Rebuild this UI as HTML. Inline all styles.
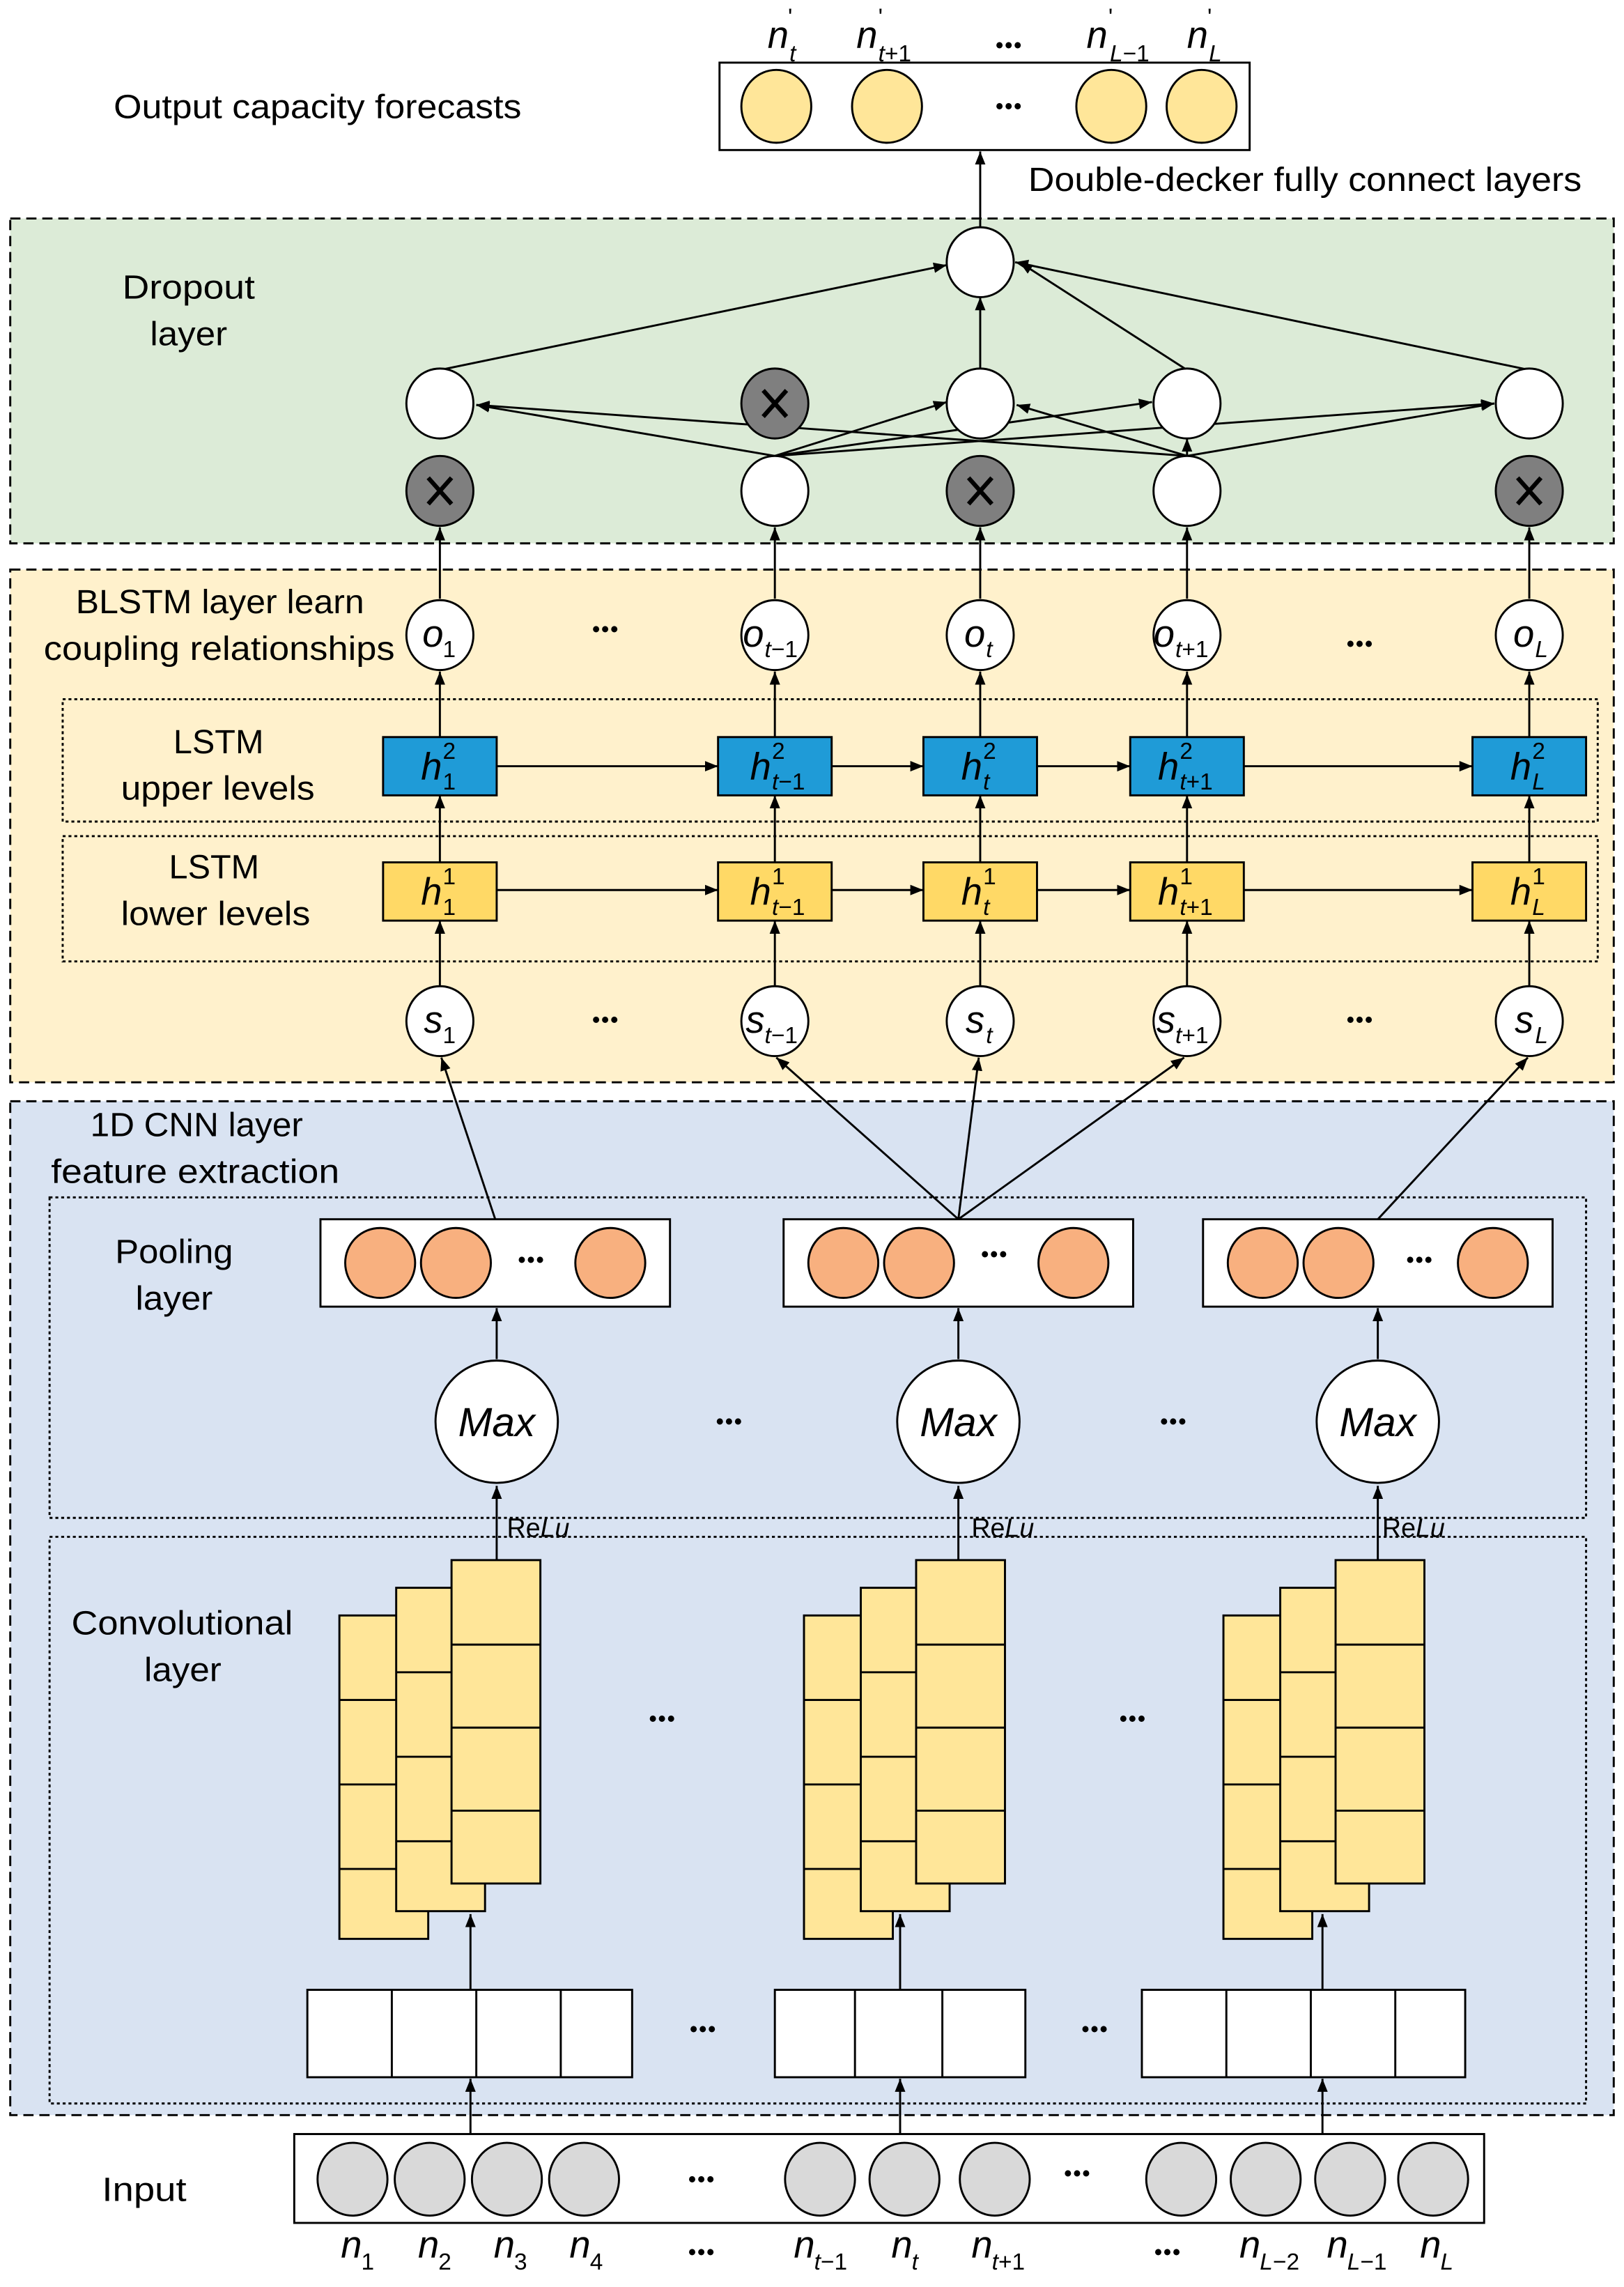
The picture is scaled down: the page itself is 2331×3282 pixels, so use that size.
<!DOCTYPE html>
<html><head><meta charset="utf-8"><style>
html,body{margin:0;padding:0;background:#fff}
svg{display:block}
text{font-family:"Liberation Sans",sans-serif;fill:#000}
.l{font-size:23px}
.d{font-size:15px;font-weight:bold;letter-spacing:1px}
.m{font-size:26px;font-style:italic}
.s{font-size:16px;font-style:normal}
.si{font-size:16px;font-style:italic}
</style></head><body>
<svg width="2331" height="3282" viewBox="0 0 1115 1570" xmlns="http://www.w3.org/2000/svg">
<defs>
<marker id="a" viewBox="0 0 10 10" refX="10" refY="5" markerWidth="9" markerHeight="9" markerUnits="userSpaceOnUse" orient="auto"><path d="M0,1 L10,5 L0,9 z" fill="#000"/></marker>
</defs>
<g stroke="#000" stroke-width="1.4">
<rect x="7" y="150" width="1101" height="223" fill="#dcebd7" stroke-dasharray="7,4"/>
<rect x="7" y="391" width="1101" height="352" fill="#fff1cc" stroke-dasharray="7,4"/>
<rect x="7" y="756" width="1101" height="696" fill="#d9e3f2" stroke-dasharray="7,4"/>
<rect x="43" y="480" width="1054" height="84" fill="none" stroke-dasharray="2,2"/>
<rect x="43" y="574" width="1054" height="86" fill="none" stroke-dasharray="2,2"/>
<rect x="34" y="822" width="1055" height="220" fill="none" stroke-dasharray="2,2"/>
<rect x="34" y="1055" width="1055" height="389" fill="none" stroke-dasharray="2,2"/>
</g>
<!-- output -->
<g stroke="#000" stroke-width="1.4">
<rect x="494" y="43" width="364" height="60" fill="#fff"/>
<ellipse cx="533" cy="73" rx="24" ry="25" fill="#ffe699"/>
<ellipse cx="609" cy="73" rx="24" ry="25" fill="#ffe699"/>
<ellipse cx="763" cy="73" rx="24" ry="25" fill="#ffe699"/>
<ellipse cx="825" cy="73" rx="24" ry="25" fill="#ffe699"/>
<line x1="673" y1="157" x2="673" y2="104" marker-end="url(#a)"/>
</g>
<text x="693" y="78" class="d" text-anchor="middle">•••</text>
<text x="693" y="36" class="d" text-anchor="middle">•••</text>
<text x="78" y="81" class="l" textLength="280" lengthAdjust="spacingAndGlyphs">Output capacity forecasts</text>
<text x="706" y="131" class="l" textLength="380" lengthAdjust="spacingAndGlyphs">Double-decker fully connect layers</text>
<text x="527" y="33" class="m">n</text><text x="542" y="42" class="si">t</text><text x="541" y="17" class="s">'</text>
<text x="588" y="33" class="m">n</text><text x="603" y="42" class="si">t<tspan class="s">+1</tspan></text><text x="603" y="17" class="s">'</text>
<text x="746" y="33" class="m">n</text><text x="762" y="42" class="si">L<tspan class="s">−1</tspan></text><text x="761" y="17" class="s">'</text>
<text x="815" y="33" class="m">n</text><text x="830" y="42" class="si">L</text><text x="829" y="17" class="s">'</text>

<!-- dropout -->
<text x="84" y="205" class="l" textLength="91" lengthAdjust="spacingAndGlyphs">Dropout</text>
<text x="103" y="237" class="l" textLength="53" lengthAdjust="spacingAndGlyphs">layer</text>
<g stroke="#000" stroke-width="1.4" fill="none">
<line x1="302" y1="254" x2="650" y2="182" marker-end="url(#a)"/>
<line x1="673" y1="254" x2="673" y2="204" marker-end="url(#a)"/>
<line x1="815" y1="254" x2="700" y2="180" marker-end="url(#a)"/>
<line x1="1050" y1="254" x2="697" y2="180" marker-end="url(#a)"/>
<line x1="532" y1="313" x2="327" y2="278" marker-end="url(#a)"/>
<line x1="532" y1="313" x2="650" y2="276" marker-end="url(#a)"/>
<line x1="532" y1="313" x2="791" y2="276" marker-end="url(#a)"/>
<line x1="532" y1="313" x2="1026" y2="277" marker-end="url(#a)"/>
<line x1="815" y1="313" x2="327" y2="278" marker-end="url(#a)"/>
<line x1="815" y1="313" x2="698" y2="278" marker-end="url(#a)"/>
<line x1="815" y1="313" x2="815" y2="301" marker-end="url(#a)"/>
<line x1="815" y1="313" x2="1026" y2="277" marker-end="url(#a)"/>
</g>
<g stroke="#000" stroke-width="1.4">
<ellipse cx="673" cy="180" rx="23" ry="24" fill="#fff"/>
<ellipse cx="302" cy="277" rx="23" ry="24" fill="#fff"/>
<ellipse cx="532" cy="277" rx="23" ry="24" fill="#7f7f7f"/>
<ellipse cx="673" cy="277" rx="23" ry="24" fill="#fff"/>
<ellipse cx="815" cy="277" rx="23" ry="24" fill="#fff"/>
<ellipse cx="1050" cy="277" rx="23" ry="24" fill="#fff"/>
<ellipse cx="302" cy="337" rx="23" ry="24" fill="#7f7f7f"/>
<ellipse cx="532" cy="337" rx="23" ry="24" fill="#fff"/>
<ellipse cx="673" cy="337" rx="23" ry="24" fill="#7f7f7f"/>
<ellipse cx="815" cy="337" rx="23" ry="24" fill="#fff"/>
<ellipse cx="1050" cy="337" rx="23" ry="24" fill="#7f7f7f"/>
</g>
<g stroke="#000" stroke-width="3">
<path d="M524,268 L540,286 M540,268 L524,286"/>
<path d="M294,328 L310,346 M310,328 L294,346"/>
<path d="M665,328 L681,346 M681,328 L665,346"/>
<path d="M1042,328 L1058,346 M1058,328 L1042,346"/>
</g>

<!-- BLSTM -->
<text x="52" y="421" class="l" textLength="198" lengthAdjust="spacingAndGlyphs">BLSTM layer learn</text>
<text x="30" y="453" class="l" textLength="241" lengthAdjust="spacingAndGlyphs">coupling relationships</text>
<text x="119" y="517" class="l" textLength="62" lengthAdjust="spacingAndGlyphs">LSTM</text>
<text x="83" y="549" class="l" textLength="133" lengthAdjust="spacingAndGlyphs">upper levels</text>
<text x="116" y="603" class="l" textLength="62" lengthAdjust="spacingAndGlyphs">LSTM</text>
<text x="83" y="635" class="l" textLength="130" lengthAdjust="spacingAndGlyphs">lower levels</text>
<g stroke="#000" stroke-width="1.4" fill="none">
<g id="col">
<line x1="302" y1="411" x2="302" y2="362" marker-end="url(#a)"/>
<line x1="302" y1="506" x2="302" y2="461" marker-end="url(#a)"/>
<line x1="302" y1="592" x2="302" y2="546" marker-end="url(#a)"/>
<line x1="302" y1="677" x2="302" y2="632" marker-end="url(#a)"/>
</g>
<use href="#col" x="230"/>
<use href="#col" x="371"/>
<use href="#col" x="513"/>
<use href="#col" x="748"/>
<line x1="341" y1="526" x2="493" y2="526" marker-end="url(#a)"/>
<line x1="571" y1="526" x2="634" y2="526" marker-end="url(#a)"/>
<line x1="712" y1="526" x2="776" y2="526" marker-end="url(#a)"/>
<line x1="854" y1="526" x2="1011" y2="526" marker-end="url(#a)"/>
<line x1="341" y1="611" x2="493" y2="611" marker-end="url(#a)"/>
<line x1="571" y1="611" x2="634" y2="611" marker-end="url(#a)"/>
<line x1="712" y1="611" x2="776" y2="611" marker-end="url(#a)"/>
<line x1="854" y1="611" x2="1011" y2="611" marker-end="url(#a)"/>
</g>
<g stroke="#000" stroke-width="1.4">
<g fill="#fff">
<ellipse cx="302" cy="436" rx="23" ry="24"/><ellipse cx="532" cy="436" rx="23" ry="24"/><ellipse cx="673" cy="436" rx="23" ry="24"/><ellipse cx="815" cy="436" rx="23" ry="24"/><ellipse cx="1050" cy="436" rx="23" ry="24"/>
<ellipse cx="302" cy="701" rx="23" ry="24"/><ellipse cx="532" cy="701" rx="23" ry="24"/><ellipse cx="673" cy="701" rx="23" ry="24"/><ellipse cx="815" cy="701" rx="23" ry="24"/><ellipse cx="1050" cy="701" rx="23" ry="24"/>
</g>
<g fill="#1f9bd7">
<rect x="263" y="506" width="78" height="40"/><rect x="493" y="506" width="78" height="40"/><rect x="634" y="506" width="78" height="40"/><rect x="776" y="506" width="78" height="40"/><rect x="1011" y="506" width="78" height="40"/>
</g>
<g fill="#ffd966">
<rect x="263" y="592" width="78" height="40"/><rect x="493" y="592" width="78" height="40"/><rect x="634" y="592" width="78" height="40"/><rect x="776" y="592" width="78" height="40"/><rect x="1011" y="592" width="78" height="40"/>
</g>
</g>
<text x="416" y="437" class="d" text-anchor="middle">•••</text>
<text x="934" y="447" class="d" text-anchor="middle">•••</text>
<text x="416" y="705" class="d" text-anchor="middle">•••</text>
<text x="934" y="705" class="d" text-anchor="middle">•••</text>
<text x="290" y="444" class="m">o</text><text x="304" y="451" class="s">1</text>
<text x="510" y="444" class="m">o</text><text x="525" y="451" class="si">t<tspan class="s">−1</tspan></text>
<text x="662" y="444" class="m">o</text><text x="677" y="451" class="si">t</text>
<text x="792" y="444" class="m">o</text><text x="807" y="451" class="si">t<tspan class="s">+1</tspan></text>
<text x="1039" y="444" class="m">o</text><text x="1054" y="451" class="si">L</text>
<text x="291" y="709" class="m">s</text><text x="304" y="716" class="s">1</text>
<text x="512" y="709" class="m">s</text><text x="525" y="716" class="si">t<tspan class="s">−1</tspan></text>
<text x="663" y="709" class="m">s</text><text x="677" y="716" class="si">t</text>
<text x="794" y="709" class="m">s</text><text x="807" y="716" class="si">t<tspan class="s">+1</tspan></text>
<text x="1040" y="709" class="m">s</text><text x="1054" y="716" class="si">L</text>
<g>
<text x="289" y="535" class="m">h</text><text x="304" y="521" class="s">2</text><text x="304" y="542" class="s">1</text>
<text x="515" y="535" class="m">h</text><text x="530" y="521" class="s">2</text><text x="530" y="542" class="si">t<tspan class="s">−1</tspan></text>
<text x="660" y="535" class="m">h</text><text x="675" y="521" class="s">2</text><text x="675" y="542" class="si">t</text>
<text x="795" y="535" class="m">h</text><text x="810" y="521" class="s">2</text><text x="810" y="542" class="si">t<tspan class="s">+1</tspan></text>
<text x="1037" y="535" class="m">h</text><text x="1052" y="521" class="s">2</text><text x="1052" y="542" class="si">L</text>
<text x="289" y="621" class="m">h</text><text x="304" y="607" class="s">1</text><text x="304" y="628" class="s">1</text>
<text x="515" y="621" class="m">h</text><text x="530" y="607" class="s">1</text><text x="530" y="628" class="si">t<tspan class="s">−1</tspan></text>
<text x="660" y="621" class="m">h</text><text x="675" y="607" class="s">1</text><text x="675" y="628" class="si">t</text>
<text x="795" y="621" class="m">h</text><text x="810" y="607" class="s">1</text><text x="810" y="628" class="si">t<tspan class="s">+1</tspan></text>
<text x="1037" y="621" class="m">h</text><text x="1052" y="607" class="s">1</text><text x="1052" y="628" class="si">L</text>
</g>

<!-- CNN -->
<text x="62" y="780" class="l" textLength="146" lengthAdjust="spacingAndGlyphs">1D CNN layer</text>
<text x="35" y="812" class="l" textLength="198" lengthAdjust="spacingAndGlyphs">feature extraction</text>
<text x="79" y="867" class="l" textLength="81" lengthAdjust="spacingAndGlyphs">Pooling</text>
<text x="93" y="899" class="l" textLength="53" lengthAdjust="spacingAndGlyphs">layer</text>
<text x="49" y="1122" class="l" textLength="152" lengthAdjust="spacingAndGlyphs">Convolutional</text>
<text x="99" y="1154" class="l" textLength="53" lengthAdjust="spacingAndGlyphs">layer</text>
<g stroke="#000" stroke-width="1.4" fill="none">
<line x1="340" y1="837" x2="303" y2="726" marker-end="url(#a)"/>
<line x1="658" y1="837" x2="533" y2="726" marker-end="url(#a)"/>
<line x1="658" y1="837" x2="672" y2="726" marker-end="url(#a)"/>
<line x1="658" y1="837" x2="813" y2="726" marker-end="url(#a)"/>
<line x1="946" y1="837" x2="1049" y2="726" marker-end="url(#a)"/>
<line x1="341" y1="933" x2="341" y2="898" marker-end="url(#a)"/>
<line x1="658" y1="933" x2="658" y2="898" marker-end="url(#a)"/>
<line x1="946" y1="933" x2="946" y2="898" marker-end="url(#a)"/>
<line x1="341" y1="1071" x2="341" y2="1020" marker-end="url(#a)"/>
<line x1="658" y1="1071" x2="658" y2="1020" marker-end="url(#a)"/>
<line x1="946" y1="1071" x2="946" y2="1020" marker-end="url(#a)"/>
<line x1="323" y1="1366" x2="323" y2="1314" marker-end="url(#a)"/>
<line x1="618" y1="1366" x2="618" y2="1314" marker-end="url(#a)"/>
<line x1="908" y1="1366" x2="908" y2="1314" marker-end="url(#a)"/>
<line x1="323" y1="1465" x2="323" y2="1427" marker-end="url(#a)"/>
<line x1="618" y1="1465" x2="618" y2="1427" marker-end="url(#a)"/>
<line x1="908" y1="1465" x2="908" y2="1427" marker-end="url(#a)"/>
</g>
<g stroke="#000" stroke-width="1.4">
<rect x="220" y="837" width="240" height="60" fill="#fff"/>
<rect x="538" y="837" width="240" height="60" fill="#fff"/>
<rect x="826" y="837" width="240" height="60" fill="#fff"/>
<g fill="#f8b07f">
<ellipse cx="261" cy="867" rx="24" ry="24"/><ellipse cx="313" cy="867" rx="24" ry="24"/><ellipse cx="419" cy="867" rx="24" ry="24"/>
<ellipse cx="579" cy="867" rx="24" ry="24"/><ellipse cx="631" cy="867" rx="24" ry="24"/><ellipse cx="737" cy="867" rx="24" ry="24"/>
<ellipse cx="867" cy="867" rx="24" ry="24"/><ellipse cx="919" cy="867" rx="24" ry="24"/><ellipse cx="1025" cy="867" rx="24" ry="24"/>
</g>
<g fill="#fff">
<ellipse cx="341" cy="976" rx="42" ry="42"/><ellipse cx="658" cy="976" rx="42" ry="42"/><ellipse cx="946" cy="976" rx="42" ry="42"/>
</g>
<g id="stk" fill="#ffe699">
<rect x="233" y="1109" width="61" height="222"/>
<path d="M233,1167H272M233,1225H272M233,1283H272" fill="none"/>
<rect x="272" y="1090" width="61" height="222"/>
<path d="M272,1148H310M272,1206H310M272,1264H310" fill="none"/>
<rect x="310" y="1071" width="61" height="222"/>
<path d="M310,1129H371M310,1186H371M310,1243H371" fill="none"/>
</g>
<use href="#stk" x="319"/>
<use href="#stk" x="607"/>
<g fill="#fff">
<rect x="211" y="1366" width="223" height="60"/>
<path d="M269,1366V1426M327,1366V1426M385,1366V1426" fill="none"/>
<rect x="532" y="1366" width="172" height="60"/>
<path d="M587,1366V1426M647,1366V1426" fill="none"/>
<rect x="784" y="1366" width="222" height="60"/>
<path d="M842,1366V1426M900,1366V1426M958,1366V1426" fill="none"/>
<rect x="202" y="1465" width="817" height="61"/>
</g>
<g fill="#d9d9d9">
<ellipse cx="242" cy="1496" rx="24" ry="25"/><ellipse cx="295" cy="1496" rx="24" ry="25"/><ellipse cx="348" cy="1496" rx="24" ry="25"/><ellipse cx="401" cy="1496" rx="24" ry="25"/>
<ellipse cx="563" cy="1496" rx="24" ry="25"/><ellipse cx="621" cy="1496" rx="24" ry="25"/><ellipse cx="683" cy="1496" rx="24" ry="25"/>
<ellipse cx="811" cy="1496" rx="24" ry="25"/><ellipse cx="869" cy="1496" rx="24" ry="25"/><ellipse cx="927" cy="1496" rx="24" ry="25"/><ellipse cx="984" cy="1496" rx="24" ry="25"/>
</g>
</g>
<text x="365" y="870" class="d" text-anchor="middle">•••</text>
<text x="683" y="866" class="d" text-anchor="middle">•••</text>
<text x="975" y="870" class="d" text-anchor="middle">•••</text>
<text x="341" y="986" class="m" text-anchor="middle" style="font-size:28px">Max</text>
<text x="658" y="986" class="m" text-anchor="middle" style="font-size:28px">Max</text>
<text x="946" y="986" class="m" text-anchor="middle" style="font-size:28px">Max</text>
<text x="501" y="981" class="d" text-anchor="middle">•••</text>
<text x="806" y="981" class="d" text-anchor="middle">•••</text>
<text x="348" y="1055" style="font-size:18px">Re<tspan font-style="italic">Lu</tspan></text>
<text x="667" y="1055" style="font-size:18px">Re<tspan font-style="italic">Lu</tspan></text>
<text x="949" y="1055" style="font-size:18px">Re<tspan font-style="italic">Lu</tspan></text>
<text x="455" y="1185" class="d" text-anchor="middle">•••</text>
<text x="778" y="1185" class="d" text-anchor="middle">•••</text>
<text x="483" y="1398" class="d" text-anchor="middle">•••</text>
<text x="752" y="1398" class="d" text-anchor="middle">•••</text>
<text x="482" y="1501" class="d" text-anchor="middle">•••</text>
<text x="740" y="1497" class="d" text-anchor="middle">•••</text>
<text x="70" y="1511" class="l" textLength="58" lengthAdjust="spacingAndGlyphs">Input</text>
<text x="234" y="1550" class="m">n</text><text x="248" y="1558" class="s">1</text>
<text x="287" y="1550" class="m">n</text><text x="301" y="1558" class="s">2</text>
<text x="339" y="1550" class="m">n</text><text x="353" y="1558" class="s">3</text>
<text x="391" y="1550" class="m">n</text><text x="405" y="1558" class="s">4</text>
<text x="482" y="1551" class="d" text-anchor="middle">•••</text>
<text x="545" y="1550" class="m">n</text><text x="559" y="1558" class="si">t<tspan class="s">−1</tspan></text>
<text x="612" y="1550" class="m">n</text><text x="626" y="1558" class="si">t</text>
<text x="667" y="1550" class="m">n</text><text x="681" y="1558" class="si">t<tspan class="s">+1</tspan></text>
<text x="802" y="1551" class="d" text-anchor="middle">•••</text>
<text x="851" y="1550" class="m">n</text><text x="865" y="1558" class="si">L<tspan class="s">−2</tspan></text>
<text x="911" y="1550" class="m">n</text><text x="925" y="1558" class="si">L<tspan class="s">−1</tspan></text>
<text x="975" y="1550" class="m">n</text><text x="989" y="1558" class="si">L</text>
</svg>
</body></html>
